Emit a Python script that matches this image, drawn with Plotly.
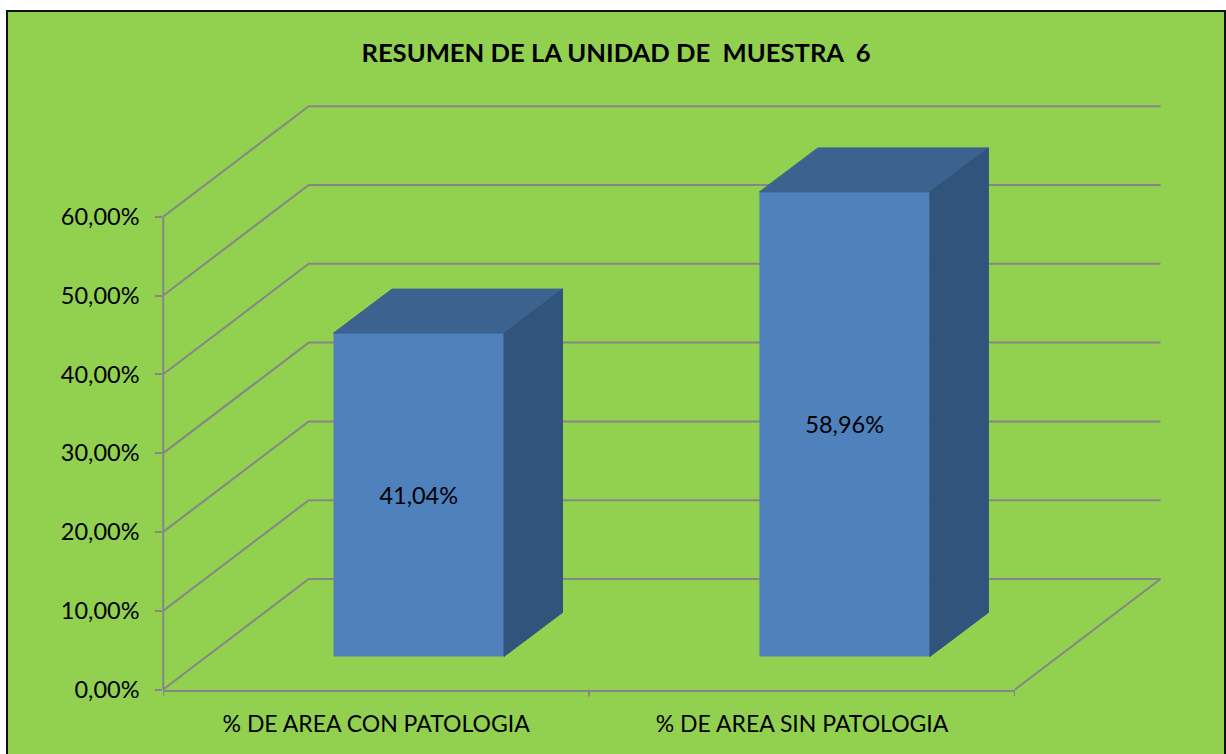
# -*- coding: utf-8 -*-
import plotly.graph_objects as go

# ===============================================================
# Chart data
# ===============================================================
categories = ["% DE AREA CON PATOLOGIA", "% DE AREA SIN PATOLOGIA"]
category_pos = [0.5, 1.5]
values = [41.04, 58.96]
value_labels = ["41,04%", "58,96%"]
y_ticks = [0, 10, 20, 30, 40, 50, 60]
y_tick_labels = ["0,00%", "10,00%", "20,00%", "30,00%", "40,00%", "50,00%", "60,00%"]
title_text = "RESUMEN DE LA UNIDAD DE  MUESTRA  6"

# ===============================================================
# Palette and geometry of the fake 3D box
# ===============================================================
WIDTH, HEIGHT = 1226, 754
GREEN = "#92d050"
GREY = "#868686"
FRONT = "#4f81bd"
TOP = "#3c6290"
SIDE = "#31547c"
FONT = "Lato, Carlito, Calibri, sans-serif"

# pixel box of the front axes
X0_PX, X2_PX = 163.2, 1015
Y0_PX, Y60_PX = 689.5, 216.7
PX_PER_X = (X2_PX - X0_PX) / 2
PX_PER_Y = (Y0_PX - Y60_PX) / 60
Y_AXIS_TOP = 75  # front axes run past 60 so the bars can overhang

# wall depth and bar depth, in axis units
WALL_DX, WALL_DY = 145.5 / PX_PER_X, 110.5 / PX_PER_Y
BAR_DX, BAR_DY = 58.5 / PX_PER_X, 44 / PX_PER_Y
BAR_WIDTH = 170.5 / PX_PER_X
BAR_SHIFT = 0.1  # bars sit a little back and right of the category centre
BAR_BASE = 33 / PX_PER_Y

fig = go.Figure()


def wall_line(xs, ys):
    fig.add_trace(
        go.Scatter(
            x=xs,
            y=ys,
            mode="lines",
            line=dict(color=GREY, width=2),
            hoverinfo="skip",
            showlegend=False,
            xaxis="x",
            yaxis="y",
        )
    )


# Side wall and back wall gridlines, one per y tick
for tick in y_ticks:
    wall_line([0, WALL_DX, 2 + WALL_DX], [tick, tick + WALL_DY, tick + WALL_DY])
# Floor right edge and left axis line
wall_line([2, 2 + WALL_DX], [0, WALL_DY])
wall_line([0, 0], [y_ticks[0], y_ticks[-1]])

# Front faces of the bars
bar_x = [p + BAR_SHIFT for p in category_pos]
fig.add_trace(
    go.Bar(
        x=bar_x,
        y=values,
        base=BAR_BASE,
        width=BAR_WIDTH,
        text=value_labels,
        textposition="inside",
        insidetextanchor="middle",
        textangle=0,
        textfont=dict(family=FONT, size=23.5, color="#000000"),
        marker=dict(color=FRONT, line=dict(width=0)),
        showlegend=False,
        xaxis="x2",
        yaxis="y2",
    )
)

# Top and side faces, derived from the same values
for cx, val in zip(bar_x, values):
    left, right = cx - BAR_WIDTH / 2, cx + BAR_WIDTH / 2
    low, high = BAR_BASE, BAR_BASE + val
    fig.add_trace(
        go.Scatter(
            x=[left, right, right + BAR_DX, left + BAR_DX, left],
            y=[high, high, high + BAR_DY, high + BAR_DY, high],
            fill="toself",
            fillcolor=TOP,
            mode="lines",
            line=dict(color=TOP, width=1),
            hoverinfo="skip",
            showlegend=False,
            xaxis="x2",
            yaxis="y2",
        )
    )
    fig.add_trace(
        go.Scatter(
            x=[right, right + BAR_DX, right + BAR_DX, right, right],
            y=[low, low + BAR_DY, high + BAR_DY, high, low],
            fill="toself",
            fillcolor=SIDE,
            mode="lines",
            line=dict(color=SIDE, width=1),
            hoverinfo="skip",
            showlegend=False,
            xaxis="x2",
            yaxis="y2",
        )
    )

fig.update_layout(
    width=WIDTH,
    height=HEIGHT,
    margin=dict(l=0, r=0, t=0, b=0, pad=0),
    paper_bgcolor="#ffffff",
    plot_bgcolor="rgba(0,0,0,0)",
    font=dict(family=FONT, color="#000000"),
    title=dict(
        text=f"<b>{title_text}</b>",
        x=616 / WIDTH,
        xanchor="center",
        y=1 - 53 / HEIGHT,
        yanchor="middle",
        font=dict(family=FONT, size=25.6, color="#000000"),
    ),
    # Hidden full page axes for the walls, same scale as the front axes
    xaxis=dict(
        domain=[0, 1],
        range=[-X0_PX / PX_PER_X, (WIDTH - X0_PX) / PX_PER_X],
        visible=False,
        automargin=False,
    ),
    yaxis=dict(
        domain=[0, 1],
        range=[-(HEIGHT - Y0_PX) / PX_PER_Y, Y0_PX / PX_PER_Y],
        visible=False,
        automargin=False,
    ),
    # Front axes with the real ticks and labels
    xaxis2=dict(
        domain=[X0_PX / WIDTH, X2_PX / WIDTH],
        range=[0, 2],
        anchor="y2",
        automargin=False,
        showgrid=False,
        zeroline=False,
        showline=True,
        linecolor=GREY,
        linewidth=2,
        ticks="",
        tickmode="array",
        tickvals=category_pos,
        ticktext=categories,
        tickfont=dict(family=FONT, size=23, color="#000000"),
        ticklabelstandoff=13,
    ),
    yaxis2=dict(
        domain=[1 - Y0_PX / HEIGHT, 1 - (Y0_PX - Y_AXIS_TOP * PX_PER_Y) / HEIGHT],
        range=[0, Y_AXIS_TOP],
        anchor="x2",
        automargin=False,
        showgrid=False,
        zeroline=False,
        showline=False,
        ticks="outside",
        ticklen=7,
        tickwidth=2,
        tickcolor=GREY,
        tickmode="array",
        tickvals=y_ticks,
        ticktext=y_tick_labels,
        tickfont=dict(family=FONT, size=23.5, color="#000000"),
        ticklabelstandoff=11,
    ),
    shapes=[
        # Chart area with its border, behind everything
        dict(
            type="rect",
            xref="paper",
            yref="paper",
            x0=7 / WIDTH,
            x1=1225 / WIDTH,
            y0=-0.01,
            y1=1 - 11 / HEIGHT,
            fillcolor=GREEN,
            line=dict(color="#111111", width=2),
            layer="below",
        ),
        # Category separator ticks on the floor edge
        *[
            dict(
                type="line",
                xref="x2",
                yref="paper",
                x0=t,
                x1=t,
                y0=1 - Y0_PX / HEIGHT - 7 / HEIGHT,
                y1=1 - Y0_PX / HEIGHT,
                line=dict(color=GREY, width=2),
            )
            for t in [0, 1, 2]
        ],
    ],
)

fig.write_html(
    "out.html",
    config={"displayModeBar": False},
    post_script="document.body.style.margin='0';document.body.style.overflow='hidden';",
)
